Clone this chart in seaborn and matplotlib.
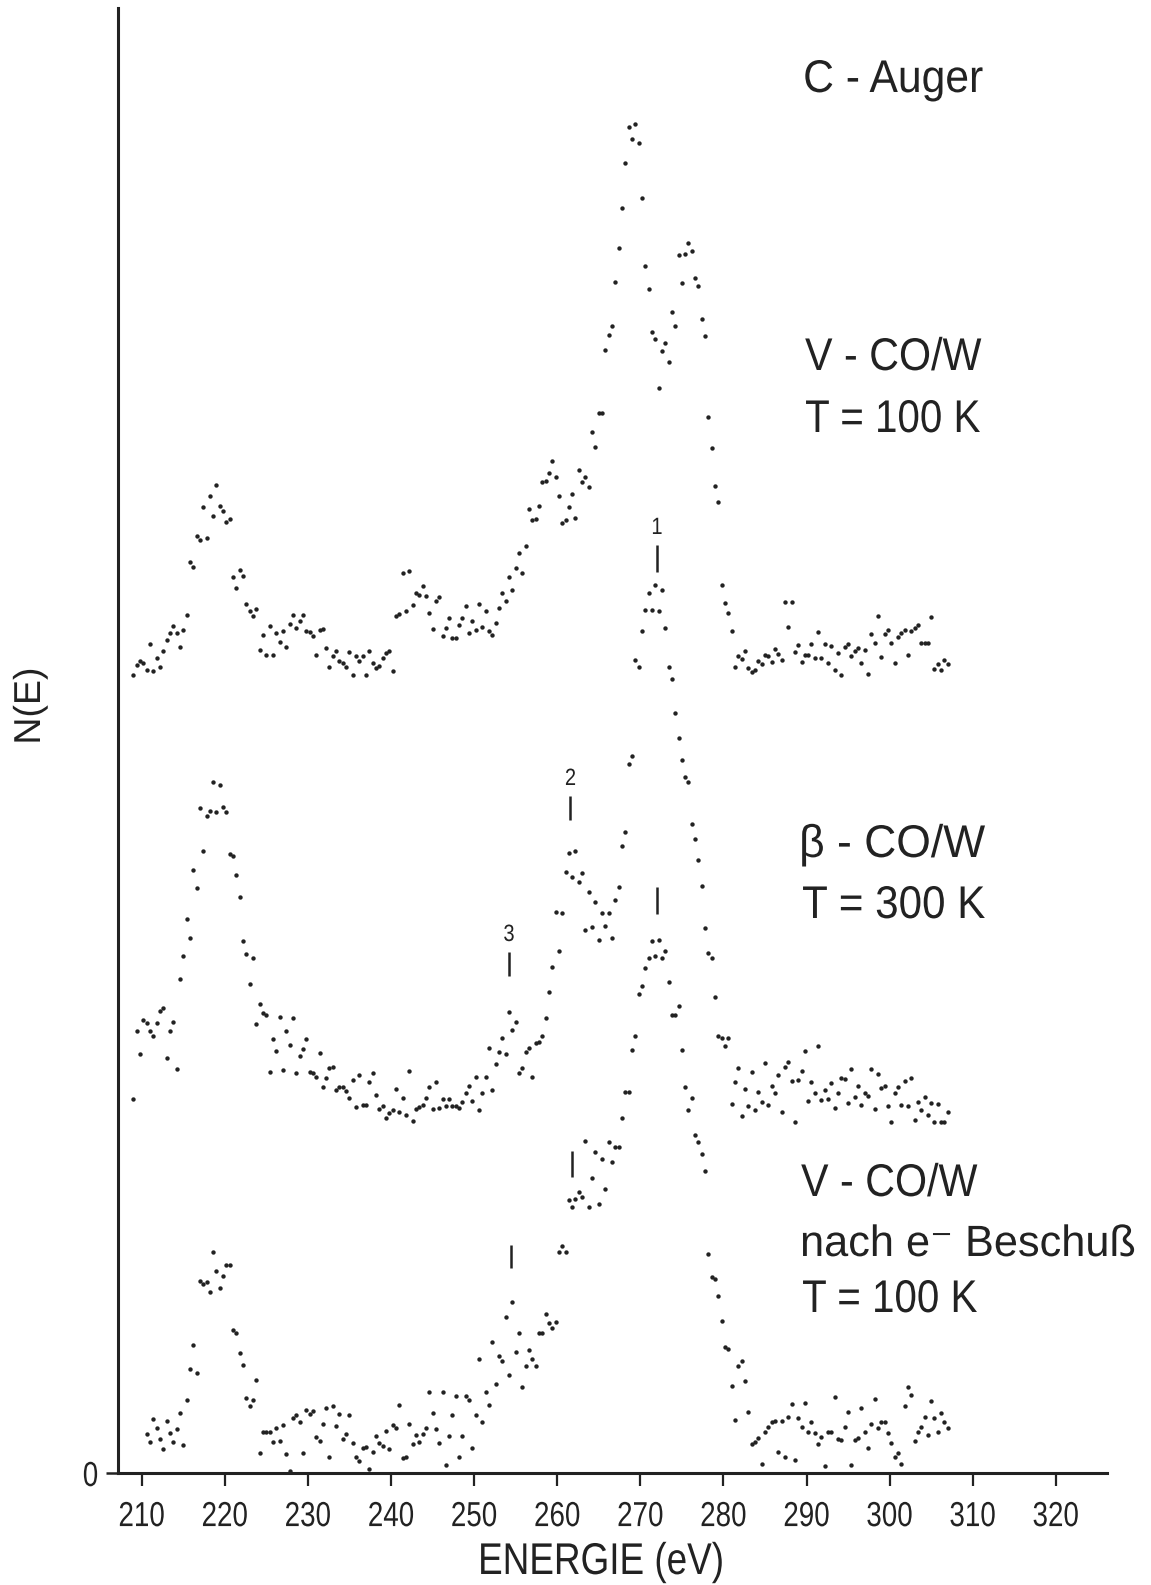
import numpy as np
import matplotlib
matplotlib.use("Agg")
import matplotlib.pyplot as plt
import matplotlib.patheffects as pe
from matplotlib.transforms import Affine2D
import seaborn as sns

# --- Data -----------------------------------------------------------------------------------------
# Energy grid of the digitised Auger spectra (eV), one point every 0.4 eV
energy = np.round(np.arange(209.0, 307.01, 0.4), 1)

# N(E), arbitrary units (already offset as in the original figure)
n_v_100k = [
    798, 808, 812, 810, 803, 829, 802, 815, 806, 822,
    833, 840, 847, 840, 826, 843, 858, 911, 906, 937,
    933, 966, 935, 977, 957, 988, 967, 962, 951, 954,
    896, 885, 903, 897, 869, 862, 857, 864, 823, 838,
    818, 847, 818, 840, 831, 842, 826, 849, 858, 845,
    852, 858, 842, 841, 837, 818, 843, 844, 825, 806,
    817, 822, 812, 810, 806, 821, 798, 817, 812, 817,
    798, 822, 810, 805, 807, 815, 820, 822, 802, 857,
    859, 900, 862, 902, 868, 880, 878, 887, 877, 860,
    844, 872, 876, 837, 845, 855, 835, 835, 848, 855,
    867, 840, 852, 843, 869, 846, 862, 842, 838, 850,
    865, 880, 872, 896, 883, 905, 920, 900, 927, 964,
    953, 954, 967, 991, 992, 1000, 1012, 996, 977, 950,
    953, 966, 979, 955, 1003, 991, 996, 986, 1041, 1026,
    1060, 1060, 1123, 1138, 1147, 1191, 1225, 1265, 1310, 1346,
    1334, 1349, 1330, 1275, 1207, 1184, 1141, 1134, 1085, 1122,
    1130, 1111, 1161, 1147, 1218, 1190, 1219, 1230, 1222, 1195,
    1187, 1154, 1137, 1056, 1025, 987, 971, 888, 870, 860,
    842, 806, 817, 814, 822, 805, 801, 803, 812, 809,
    818, 817, 811, 824, 819, 813, 871, 846, 871, 821,
    828, 811, 818, 818, 829, 815, 841, 815, 829, 810,
    827, 803, 820, 798, 826, 829, 817, 822, 825, 810,
    823, 799, 839, 830, 857, 816, 839, 843, 830, 810,
    836, 840, 843, 818, 842, 845, 848, 830, 830, 830,
    856, 804, 809, 803, 813, 809,
]

n_beta_300k = [
    374, 442, 419, 453, 450, 442, 437, 450, 462, 465,
    415, 442, 451, 404, 494, 517, 554, 535, 603, 585,
    665, 622, 657, 662, 691, 661, 688, 666, 661, 619,
    617, 598, 576, 532, 519, 489, 515, 449, 469, 460,
    458, 401, 434, 422, 456, 403, 442, 428, 455, 400,
    417, 424, 434, 401, 400, 396, 420, 386, 395, 405,
    406, 383, 386, 386, 382, 375, 393, 366, 398, 368,
    368, 391, 400, 378, 364, 367, 355, 360, 363, 384,
    361, 375, 358, 402, 352, 364, 366, 368, 375, 386,
    364, 391, 365, 374, 367, 374, 367, 367, 365, 371,
    380, 387, 372, 396, 363, 380, 396, 425, 383, 409,
    421, 435, 419, 461, 443, 451, 400, 405, 421, 425,
    396, 430, 431, 437, 455, 481, 506, 561, 522, 560,
    601, 620, 596, 622, 591, 600, 543, 581, 546, 571,
    533, 560, 547, 560, 535, 573, 586, 627, 641, 709,
    717, 813, 806, 842, 863, 880, 863, 888, 862, 883,
    845, 806, 794, 760, 735, 713, 696, 691, 649, 634,
    613, 587, 545, 520, 515, 476, 437, 435, 427, 435,
    369, 391, 405, 357, 384, 367, 401, 363, 381, 371,
    410, 368, 387, 380, 398, 361, 406, 411, 392, 351,
    393, 402, 422, 372, 391, 380, 427, 373, 383, 374,
    390, 365, 380, 395, 394, 370, 404, 376, 387, 368,
    380, 377, 404, 364, 399, 385, 387, 367, 351, 380,
    386, 368, 392, 367, 395, 353, 371, 363, 376, 358,
    370, 351, 369, 351, 351, 361,
]

nan = np.nan
n_v_beschuss = [
    nan, nan, nan, nan, 39, 31, 54, 45, 34, 24,
    52, 40, 31, 44, 60, 28, 73, 104, 128, 100,
    192, 189, 191, 181, 221, 202, 185, 197, 208, 208,
    143, 140, 120, 108, 75, 67, 73, 93, 20, 41,
    41, 41, 31, 45, 32, 48, 19, 2, 55, 58,
    51, 20, 63, 59, 62, 36, 32, 49, 65, 16,
    67, 47, 59, 34, 39, 58, 30, 16, 12, 25,
    26, 4, 21, 37, 30, 27, 42, 24, 48, 45,
    68, 15, 16, 49, 29, 38, 31, 39, 45, 81,
    60, 44, 30, 81, 8, 37, 58, 77, 16, 37,
    77, 73, 25, 58, 114, 51, 81, 68, 131, 89,
    117, 112, 156, 98, 171, 121, 140, 86, 107, 123,
    114, 107, 140, 140, 159, 150, 145, 151, 221, 227,
    221, 273, 266, 274, 281, 276, 332, 266, 295, 321,
    269, 314, 284, 331, 311, 326, 326, 355, 381, 381,
    423, 437, 479, 487, 505, 515, 532, 517, 533, 515,
    522, 491, 458, 458, 467, 423, 386, 363, 375, 338,
    331, 319, 302, 219, 196, 194, 177, 152, 126, 124,
    87, 53, 107, 112, 92, 61, 29, 31, 35, 9,
    41, 46, 51, 52, 21, 52, 16, 56, 69, 13,
    55, 46, 70, 41, 51, 40, 29, 36, 7, 41,
    41, 76, 34, 33, 46, 61, 8, 33, 35, 65,
    41, 25, 49, 74, 45, 51, 51, 40, 30, 16,
    20, 9, 67, 86, 78, 32, 41, 46, 56, 38,
    72, 55, 41, 60, 51, 45,
]

spectra = [n_v_100k, n_beta_300k, n_v_beschuss]

# peak markers: energy, lower / upper end of the bar, label
marker_energy = [272.0, 261.6, 254.2, 272.0, 261.8, 254.4]
marker_bottom = [901, 653, 497, 559, 296, 205]
marker_top = [928, 677, 521, 586, 322, 228]
marker_label = ["1", "2", "3", "", "", ""]

x_ticks = [210, 220, 230, 240, 250, 260, 270, 280, 290, 300, 310, 320]


# --- Helpers --------------------------------------------------------------------------------------
class Condense(pe.AbstractPathEffect):
    """Squeeze the glyphs of a text horizontally (the original lettering is narrow)."""

    def __init__(self, sx, anchor="left"):
        super().__init__()
        self.sx = sx
        self.anchor = anchor

    def draw_path(self, renderer, gc, tpath, affine, rgbFace=None):
        ext = tpath.get_extents()
        x0 = {"left": ext.x0, "center": 0.5 * (ext.x0 + ext.x1), "right": ext.x1}[self.anchor]
        squeeze = Affine2D().translate(-x0, 0).scale(self.sx, 1.0).translate(x0, 0)
        renderer.draw_path(gc, tpath, squeeze + affine, rgbFace)


# --- Style ----------------------------------------------------------------------------------------
INK = "#222222"
W, H = 1151, 1585

sns.set_theme(style="white")
plt.rcParams["font.family"] = ["Liberation Sans", "DejaVu Sans"]

fig = plt.figure(figsize=(W / 100, H / 100), dpi=100)
ax = fig.add_axes([118 / W, 112 / H, (1107 - 118) / W, (1473 - 8) / H])

for vals in spectra:
    sns.scatterplot(x=energy, y=vals, ax=ax, s=10, color=INK, linewidth=0, legend=False)

for e, lo, hi, lab in zip(marker_energy, marker_bottom, marker_top, marker_label):
    ax.plot([e, e], [lo, hi], color=INK, lw=1.8, solid_capstyle="butt")
    if lab:
        ax.text(e, hi + 17, lab, ha="center", va="center", fontsize=17, color=INK,
                path_effects=[Condense(0.85, "center")])

ax.set_xlim(207.15, 326.16)
ax.set_ylim(0, 1465)
ax.set_xticks(x_ticks)
ax.set_yticks([0])
ax.set_xlabel("")
ax.set_ylabel("")
ax.tick_params(axis="x", direction="out", length=9.5, width=1.6, labelsize=25, pad=10,
               colors=INK, bottom=True)
ax.tick_params(axis="y", direction="out", length=9, width=1.8, labelsize=25, pad=5,
               colors=INK, left=True)
for lab in ax.get_xticklabels():
    lab.set_path_effects([Condense(0.8, "center")])
for lab in ax.get_yticklabels():
    lab.set_path_effects([Condense(0.8, "right")])
for side in ("top", "right"):
    ax.spines[side].set_visible(False)
for side in ("left", "bottom"):
    ax.spines[side].set_linewidth(2.2)
    ax.spines[side].set_color(INK)


# --- Labels ---------------------------------------------------------------------------------------
def put(x, y, s, sx=0.9, anchor="left", va="baseline", **kw):
    fig.text(x / W, 1 - y / H, s, color=INK, va=va,
             path_effects=[Condense(sx, anchor)], **kw)


put(30, 706, "N(E)", sx=1.0, anchor="center", va="center", rotation=90, ha="center", fontsize=27)
put(601, 1574, "ENERGIE (eV)", sx=0.83, anchor="center", ha="center", fontsize=32)

put(803, 92, "C - Auger", sx=0.93, fontsize=33)
put(805, 370, "V - CO/W", sx=0.9, fontsize=33)
put(805, 432, "T = 100 K", sx=0.88, fontsize=33)
put(799, 857, "β - CO/W", sx=0.97, fontsize=33)
put(802, 918, "T = 300 K", sx=0.92, fontsize=33)
put(801, 1196, "V - CO/W", sx=0.9, fontsize=33)
put(800, 1256, "nach e⁻ Beschuß", sx=0.99, fontsize=31.5)
put(802, 1312, "T = 100 K", sx=0.88, fontsize=33)

fig.savefig("out.png", dpi=100, facecolor="white")
